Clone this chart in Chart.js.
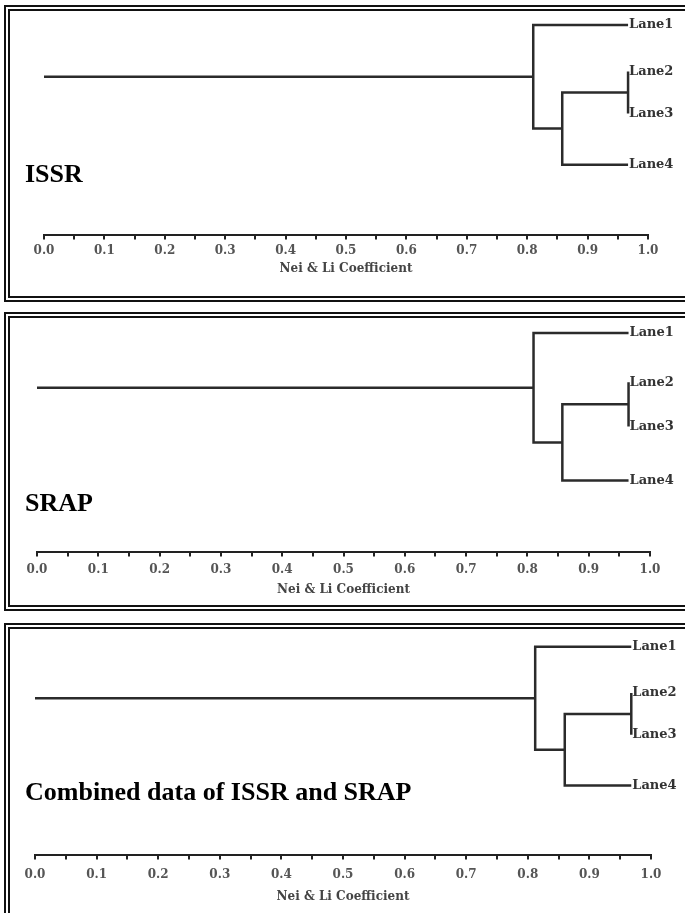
<!DOCTYPE html>
<html>
<head>
<meta charset="utf-8">
<script src="https://cdn.jsdelivr.net/npm/chart.js@4.4.0/dist/chart.umd.min.js"></script>
<style>
html, body { margin: 0; padding: 0; background: #fff; overflow: hidden; }
body { width: 685px; height: 913px; position: relative; }
.panel { position: absolute; left: 4px; width: 690px; border: 6px double #111; box-sizing: border-box; background: #fff; }
.panel canvas { position: absolute; left: 0; top: 0; }
</style>
</head>
<body>
<div class="panel" style="top:5px;height:297px;"><canvas id="c1" width="678" height="285"></canvas></div>
<div class="panel" style="top:312px;height:299px;"><canvas id="c2" width="678" height="287"></canvas></div>
<div class="panel" style="top:623px;height:320px;"><canvas id="c3" width="678" height="300"></canvas></div>
<script>
// leaves of the tree and their vertical order
var lanes = ['Lane1', 'Lane2', 'Lane3', 'Lane4'];
var laneRank = [1, 2, 2.9, 4];

// join coefficients: [Lane2+Lane3, +Lane4, +Lane1]
var issrJoins = [0.967, 0.858, 0.81];
var srapJoins = [0.965, 0.857, 0.81];
var combinedJoins = [0.968, 0.86, 0.812];

var axisTicks = [0, 0.1, 0.2, 0.3, 0.4, 0.5, 0.6, 0.7, 0.8, 0.9, 1.0];
var axisTitle = 'Nei & Li Coefficient';

function treeLines(joins) {
  var xA = joins[0], xB = joins[1], xR = joins[2];
  var yA = (laneRank[1] + laneRank[2]) / 2;
  var yB = (yA + laneRank[3]) / 2;
  var yR = (laneRank[0] + yB) / 2;
  return [
    [{x: xA, y: laneRank[1]}, {x: xA, y: laneRank[2]}],
    [{x: xA, y: yA}, {x: xB, y: yA}, {x: xB, y: laneRank[3]}, {x: xA, y: laneRank[3]}],
    [{x: xB, y: yB}, {x: xR, y: yB}, {x: xR, y: laneRank[0]}, {x: xA, y: laneRank[0]}],
    [{x: 0, y: yR}, {x: xR, y: yR}]
  ];
}

function makePanel(id, title, joins, cfg) {
  var datasets = treeLines(joins).map(function(pts) {
    return {
      data: pts,
      showLine: true,
      borderColor: '#2b2b2b',
      borderWidth: 2.5,
      pointRadius: 0,
      tension: 0,
      clip: false
    };
  });

  var labelPlugin = {
    id: 'labels' + id,
    afterDatasetsDraw: function(chart) {
      var ctx = chart.ctx;
      var xs = chart.scales.x, ys = chart.scales.y;
      ctx.save();
      ctx.fillStyle = '#333';
      ctx.font = 'bold 13px "DejaVu Serif"';
      ctx.textBaseline = 'middle';
      for (var i = 0; i < lanes.length; i++) {
        ctx.fillText(lanes[i], xs.getPixelForValue(joins[0]) + 1, ys.getPixelForValue(laneRank[i]));
      }
      ctx.fillStyle = '#000';
      ctx.font = 'bold 26px "Liberation Serif"';
      ctx.textBaseline = 'alphabetic';
      ctx.fillText(title, 15, cfg.titleBase);
      ctx.restore();
    }
  };

  new Chart(document.getElementById(id), {
    type: 'scatter',
    data: { datasets: datasets },
    options: {
      responsive: false,
      animation: false,
      devicePixelRatio: 1,
      layout: { padding: { left: cfg.left, right: cfg.right, top: cfg.top, bottom: cfg.bottom } },
      plugins: { legend: { display: false }, tooltip: { enabled: false } },
      scales: {
        x: {
          type: 'linear',
          min: 0,
          max: 1,
          afterBuildTicks: function(axis) {
            var t = [];
            for (var i = 0; i <= 20; i++) t.push({ value: i / 20 });
            axis.ticks = t;
          },
          ticks: {
            autoSkip: false,
            maxRotation: 0,
            padding: cfg.tickPad,
            color: '#555',
            font: { family: 'DejaVu Serif', size: 12, weight: 'bold' },
            callback: function(v) {
              for (var i = 0; i < axisTicks.length; i++) {
                if (Math.abs(axisTicks[i] - v) < 1e-6) return axisTicks[i].toFixed(1);
              }
              return '';
            }
          },
          grid: { drawOnChartArea: false, drawTicks: true, tickLength: 4, color: '#222', lineWidth: 2 },
          border: { display: true, color: '#222', width: 2 },
          title: {
            display: true,
            text: axisTitle,
            color: '#444',
            font: { family: 'DejaVu Serif', size: 12, weight: 'bold' },
            padding: { top: 0, bottom: 0 }
          }
        },
        y: {
          type: 'linear',
          display: false,
          reverse: true,
          min: cfg.ymin,
          max: cfg.ymax
        }
      }
    },
    plugins: [labelPlugin]
  });
}

makePanel('c1', 'ISSR', issrJoins, { left: 34, right: 40, top: 2.3, bottom: 19.8, tickPad: 4, ymin: 0.75, ymax: 5.52, titleBase: 171 });
makePanel('c2', 'SRAP', srapJoins, { left: 27, right: 38, top: 2.7, bottom: 7.8, tickPad: 6, ymin: 0.75, ymax: 5.46, titleBase: 193 });
makePanel('c3', 'Combined data of ISSR and SRAP', combinedJoins, { left: 25, right: 37, top: 6.3, bottom: 24.8, tickPad: 8, ymin: 0.75, ymax: 5.51, titleBase: 171 });
</script>
</body>
</html>
